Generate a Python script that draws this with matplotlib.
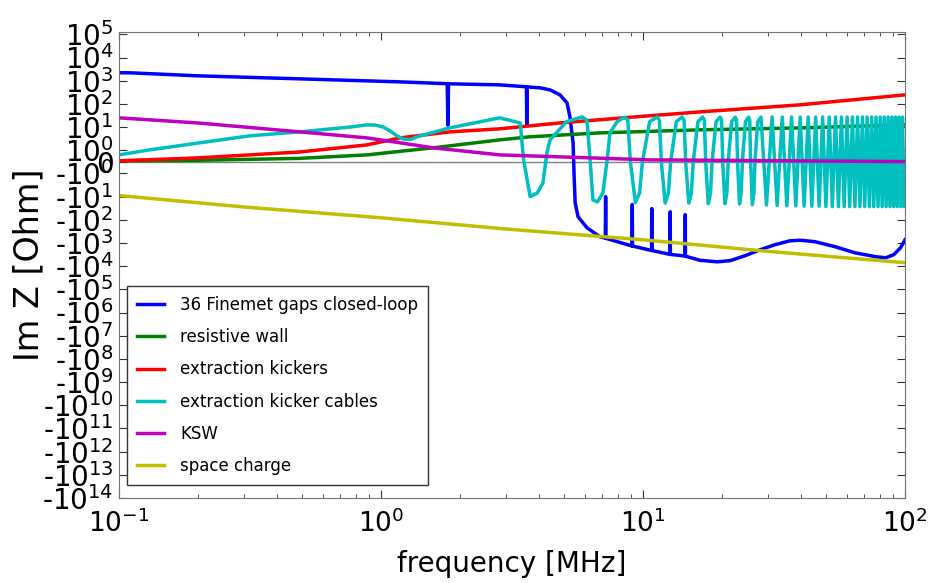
import matplotlib
matplotlib.use("Agg")
from matplotlib import pyplot as plt

# frequences en MHz, impedances en Ohm
finemet_f = [0.1, 0.11, 0.2, 0.49, 1.18, 1.79, 1.80, 1.81, 2.84, 3.59, 3.60, 3.61,
             4.05, 4.42, 4.82, 5.13, 5.26, 5.41, 5.46, 5.51, 5.65, 6.11, 6.85,
             7.18, 7.20, 7.22, 9.08, 9.10, 9.12, 10.78, 10.80, 10.82,
             12.68, 12.70, 12.72, 14.48, 14.50, 14.52,
             16.5, 19.2, 21.5, 24.6, 28.0, 31.8, 36.3, 39.8, 45.3, 54.1,
             64.4, 77.2, 84.4, 90.6, 96.2, 100]
finemet_z = [2200, 2190, 1620, 1200, 890, 740, 12, 735, 660, 545, 12, 540,
             490, 400, 245, 110, 27.5, 2.1, -1.4, -18.5, -74, -220, -540,
             -620, -10, -630, -1350, -22, -1360, -2100, -33, -2120,
             -3100, -45, -3120, -3650, -60, -3700,
             -5600, -6500, -5800, -3500, -1960, -1200, -810, -760, -880, -1450,
             -2650, -3900, -4350, -3200, -1600, -730]

wall_f = [0.1, 0.2, 0.49, 0.885, 1.58, 2.84, 3.7, 6.85, 16.5, 39.8, 100]
wall_z = [0.09, 0.13, 0.3, 0.6, 1.27, 2.8, 3.8, 5.6, 7.6, 9.2, 12.4]

kicker_f = [0.1, 0.2, 0.49, 0.885, 1.18, 1.83, 2.84, 4.8, 9.16, 16.5, 39.8, 100]
kicker_z = [0.09, 0.34, 0.85, 1.7, 3.4, 6.2, 8.4, 15, 27, 45, 91, 245]

ksw_f = [0.1, 0.2, 0.49, 0.885, 1.18, 1.58, 2.84, 4.8, 10.6, 100]
ksw_z = [25, 15, 6.2, 3.4, 2.1, 1.27, 0.6, 0.43, 0.17, 0.02]

sc_f = [0.1, 0.3, 1, 3, 10, 30, 100]
sc_z = [-9, -28, -82, -250, -730, -2300, -7100]

cable_f = [0.1, 0.131, 0.204, 0.316, 0.49, 0.76, 0.885, 0.95, 1.02, 1.08, 1.15, 1.22, 1.3, 1.37,
           1.83, 2.84,
           3.4, 3.5, 3.71, 3.95, 4.15, 4.3, 4.42, 5.1, 5.85,
           6.11, 6.28, 6.44, 6.7, 7.03, 7.3, 7.48, 7.96,
           8.5, 8.75, 8.95, 9.35, 9.7, 9.95, 10.6,
           11.3, 11.55, 11.75, 12.15, 12.5, 12.75, 13.4,
           14.1, 14.35, 14.55, 14.95, 15.3, 15.55, 16.2,
           16.9, 17.15, 17.35, 17.75, 18.1, 18.35, 19.0,
           19.7, 19.95, 20.15, 20.55, 20.9, 21.15, 21.8,
           22.5, 22.75, 22.95, 23.35, 23.7, 23.95, 24.6,
           25.3, 25.55, 25.75, 26.15, 26.5, 26.75, 27.4,
           28.2, 29.6, 31.1, 32.5, 34.0, 35.4, 36.9, 38.3, 39.8, 41.2,
           42.7, 44.1, 45.6, 47.0, 48.5, 49.9, 51.4, 52.8, 54.3, 55.7,
           57.2, 58.6, 60.1, 61.5, 63.0, 64.4, 65.9, 67.3, 68.8, 70.2,
           71.7, 73.1, 74.6, 76.0, 77.5, 78.9, 80.4, 81.8, 83.3, 84.7,
           86.2, 87.6, 89.1, 90.5, 92.0, 93.4, 94.9, 96.3, 97.8, 99.2, 100]
cable_z = [0.6, 1.04, 2.1, 4.2, 6.2, 10, 12.4, 12.2, 10, 6.9, 4.2, 3.0, 2.9, 3.8,
           9.2, 25,
           15, 0.2, -10, -7, -2.6, 0.8, 2.8, 17, 27.5,
           20, 0.2, -14, -17, -7, 0.2, 5.6, 17,
           27, 20, 0, -18, -7, 0, 17,
           27, 20, 0, -19, -7, 0, 17,
           27, 20, 0, -19, -7, 0, 17,
           27, 20, 0, -20, -7, 0, 17,
           27, 20, 0, -20, -7, 0, 17,
           27, 20, 0, -21, -7, 0, 17,
           27, 20, 0, -22, -7, 0, 17,
           27, -23, 27, -24, 27, -25, 27, -25, 27, -26,
           27, -26, 27, -26, 27, -27, 27, -27, 27, -27,
           27, -27, 27, -27, 27, -27, 27, -27, 27, -27,
           27, -27, 27, -27, 27, -27, 27, -27, 27, -27,
           27, -27, 27, -27, 27, -27, 27, -27, 27, -27, 0]

series = [
    (finemet_f, finemet_z, "b", "36 Finemet gaps closed-loop"),
    (wall_f, wall_z, "g", "resistive wall"),
    (kicker_f, kicker_z, "r", "extraction kickers"),
    (cable_f, cable_z, "c", "extraction kicker cables"),
    (ksw_f, ksw_z, "m", "KSW"),
    (sc_f, sc_z, "y", "space charge"),
]

pos_exp = [0, 1, 2, 3, 4, 5]
neg_exp = list(range(0, 15))

plt.rcParams['font.family'] = ['DejaVu Sans']
fig = plt.figure(figsize=(9.41, 5.83), dpi=100)
ax = fig.add_axes([119/941, 1-498/583, (905-119)/941, (498-32)/583])

ax.axhline(0, color="gray", lw=1, zorder=1)
for f, z, c, lab in series:
    ax.plot(f, z, color=c, lw=2.5, label=lab, zorder=2)

ax.set_xscale("log")
ax.set_yscale("symlog", linthresh=1, linscale=0.45)
ax.set_xlim(0.1, 100)
ax.set_ylim(-1e14, 10**5.1)

yt = [10.0**k for k in pos_exp] + [0] + [-10.0**k for k in neg_exp]
ylab = [r"$10^{%d}$" % k for k in pos_exp] + ["0"] + ["-" + r"$10^{%d}$" % k for k in neg_exp]
ax.set_yticks(yt)
ax.set_yticklabels(ylab)
ax.yaxis.set_minor_locator(matplotlib.ticker.NullLocator())

ax.tick_params(which="both", direction="in", top=True, right=True, color="0.2")
ax.tick_params(which="major", length=6, labelsize=19)
ax.tick_params(axis="y", labelsize=20)
ax.tick_params(which="minor", length=3)
ax.tick_params(axis="x", pad=8)
ax.tick_params(axis="y", pad=4)
for s in ax.spines.values():
    s.set_color("0.45")

ax.set_xlabel("frequency [MHz]", fontsize=20, labelpad=9)
ax.set_ylabel("Im Z [Ohm]", fontsize=24)
ax.yaxis.set_label_coords(-0.093, 0.5)

leg = ax.legend(loc="lower left", bbox_to_anchor=(0.01, 0.028), borderaxespad=0,
                fontsize=12, fancybox=False, framealpha=1, edgecolor="0.2",
                handlelength=1.6, handletextpad=1.0, labelspacing=0.85, borderpad=0.6)
leg.get_frame().set_linewidth(1)

fig.savefig("out.png", dpi=100)
